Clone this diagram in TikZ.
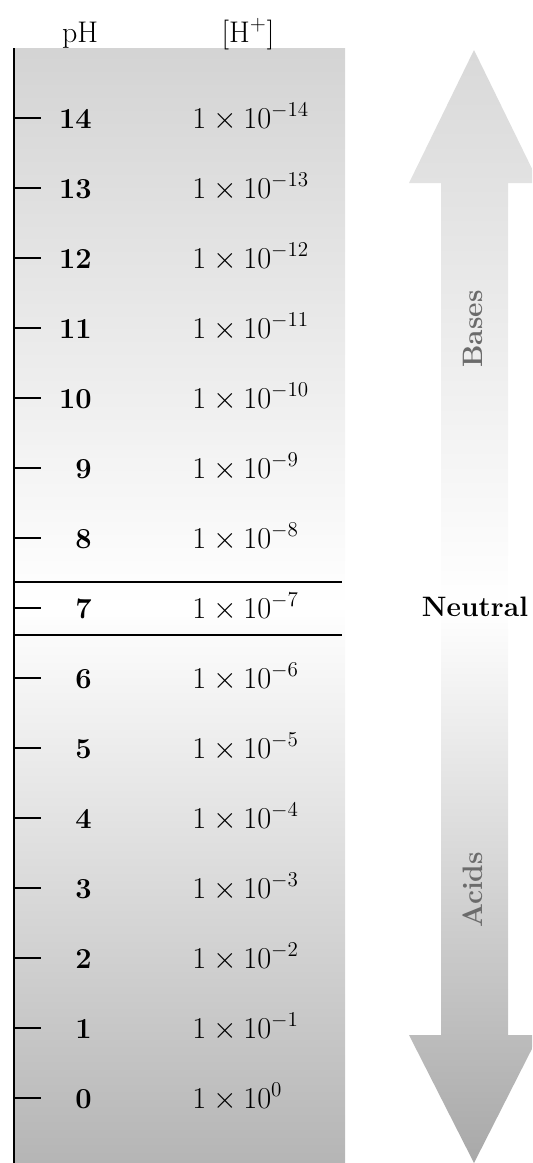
\documentclass[tikz,border=0pt]{standalone}
\definecolor{scaletop}{gray}{0.83}
\definecolor{scalebot}{gray}{0.71}
\definecolor{arrowtop}{gray}{0.85}
\definecolor{arrowbot}{gray}{0.66}
\definecolor{labelgray}{gray}{0.42}
\begin{document}
\begin{tikzpicture}[x=0.02cm, y=-0.02cm,
  tickline/.style={line width=1.1pt},
  phnum/.style={anchor=base east, inner sep=0pt, font=\fontsize{16.5}{20}\selectfont\bfseries},
  conc/.style={anchor=base west, inner sep=0pt, font=\fontsize{17.5}{20}\selectfont},
  colhead/.style={anchor=base, inner sep=0pt, font=\fontsize{17}{20}\selectfont},
  sidelabel/.style={rotate=90, text=labelgray, font=\fontsize{16}{18}\selectfont\bfseries}]
  \useasboundingbox (0,0) rectangle (532,1163);
  \clip (0,0) rectangle (532,1163);
  % scale background
  \shade[top color=scaletop, bottom color=scalebot, middle color=white] (14,48) rectangle (345,1163);
  % double arrow
  \shade[top color=arrowtop, bottom color=arrowbot, middle color=white]
    (474,50) -- (539,183) -- (508,183) -- (508,1035) -- (539,1035) -- (474,1163)
    -- (409,1035) -- (441,1035) -- (441,183) -- (409,183) -- cycle;
  % headers
  \node[colhead] (phhead) at (80,42) {pH};
  \node[colhead] (hhead) at (248,42) {[H$^+$]};
  % axis
  \draw[line width=1.1pt] (14,48) -- (14,1163);
  \foreach \p in {0,...,14} {
    \pgfmathtruncatemacro\ex{-\p}
    \draw[tickline] (14,{118+70*(14-\p)}) -- ++(27,0);
    \node[phnum] (ph\p) at (92,{128+70*(14-\p)}) {\p};
    \node[conc] (conc\p) at (192,{128+70*(14-\p)}) {$1\times10^{\ex}$};
  }
  % neutral band
  \draw[line width=0.9pt] (14,582) -- (342,582);
  \draw[line width=0.9pt] (14,635) -- (342,635);
  \node[font=\fontsize{16}{18}\selectfont\bfseries] (neutral) at (475,607) {Neutral};
  \node[sidelabel] (bases) at (473,329) {Bases};
  \node[sidelabel] (acids) at (473,890) {Acids};
\end{tikzpicture}
\end{document}
